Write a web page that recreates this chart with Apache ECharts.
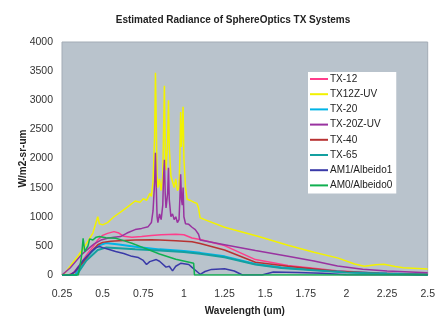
<!DOCTYPE html>
<html>
<head>
<meta charset="utf-8">
<script src="https://cdn.jsdelivr.net/npm/echarts@6/dist/echarts.min.js"></script>
<style>
  html, body { margin: 0; padding: 0; background: #fff; }
  #chart { width: 438px; height: 321px; }
</style>
</head>
<body>
<div id="chart"></div>
<script>
// series names (legend order)
var seriesNames = ['TX-12', 'TX12Z-UV', 'TX-20', 'TX-20Z-UV', 'TX-40', 'TX-65', 'AM1/Albeido1', 'AM0/Albeido0'];

// [wavelength um, radiance W/m2-sr-um]
var tx12 = [[0.25,0],[0.29,0],[0.32,40],[0.36,180],[0.41,380],[0.44,480],[0.47,600],[0.5,680],[0.53,715],[0.57,745],[0.6,720],[0.63,665],[0.68,650],[0.74,660],[0.8,680],[0.86,690],[0.95,700],[1.0,690],[1.05,635],[1.1,610],[1.25,505],[1.44,265],[1.64,165],[1.94,75],[2.2,30],[2.5,12]];

var tx12zuv = [[0.25,0],[0.27,40],[0.3,150],[0.35,330],[0.4,540],[0.44,720],[0.47,1000],[0.48,880],[0.5,860],[0.53,900],[0.57,1000],[0.61,1080],[0.65,1160],[0.7,1270],[0.73,1250],[0.75,1310],[0.77,1280],[0.79,1400],[0.8,1350],[0.81,1600],[0.82,2400],[0.825,3470],[0.83,2600],[0.835,1700],[0.84,1500],[0.85,1650],[0.86,1450],[0.87,1700],[0.875,2500],[0.88,3250],[0.885,2200],[0.89,1800],[0.9,2300],[0.905,3000],[0.91,2200],[0.92,1700],[0.93,1600],[0.94,1500],[0.95,1650],[0.96,1450],[0.97,1500],[0.975,2000],[0.98,2800],[0.985,2200],[0.99,2500],[0.995,2890],[1.0,2000],[1.01,1500],[1.02,1300],[1.04,1280],[1.06,1250],[1.08,1230],[1.09,1150],[1.1,980],[1.12,960],[1.25,820],[1.46,660],[1.64,510],[1.8,390],[1.95,290],[2.05,190],[2.11,150],[2.18,175],[2.23,185],[2.3,145],[2.35,125],[2.5,105]];

var tx20 = [[0.25,0],[0.33,0],[0.4,300],[0.47,500],[0.52,550],[0.6,525],[0.7,485],[0.85,440],[1.0,410],[1.1,380],[1.25,320],[1.44,190],[1.6,130],[1.8,90],[2.0,50],[2.25,25],[2.5,10]];

var tx20zuv = [[0.25,0],[0.26,20],[0.3,120],[0.37,350],[0.42,470],[0.45,540],[0.49,600],[0.53,630],[0.57,650],[0.61,660],[0.65,720],[0.7,780],[0.74,800],[0.78,830],[0.8,900],[0.81,1100],[0.82,1600],[0.825,2100],[0.83,1500],[0.835,1000],[0.84,900],[0.85,1050],[0.86,950],[0.87,1200],[0.875,1700],[0.88,1980],[0.885,1400],[0.89,1150],[0.9,1400],[0.905,1840],[0.91,1300],[0.92,1000],[0.93,1050],[0.94,950],[0.95,1000],[0.96,900],[0.97,950],[0.975,1300],[0.98,1730],[0.985,1300],[0.99,1200],[0.995,1500],[1.0,1000],[1.01,880],[1.03,870],[1.05,820],[1.07,780],[1.09,700],[1.1,600],[1.25,520],[1.44,420],[1.64,320],[1.8,240],[1.945,155],[2.1,100],[2.25,68],[2.5,40]];

var tx40 = [[0.25,0],[0.3,0],[0.33,50],[0.38,220],[0.43,400],[0.47,520],[0.5,560],[0.55,580],[0.6,590],[0.7,600],[0.8,605],[0.85,600],[0.95,590],[1.05,570],[1.1,540],[1.25,430],[1.44,220],[1.64,150],[1.94,65],[2.2,28],[2.5,10]];

var tx65 = [[0.25,0],[0.34,0],[0.4,250],[0.47,430],[0.52,470],[0.6,460],[0.7,440],[0.85,420],[1.0,395],[1.1,365],[1.25,305],[1.44,180],[1.6,120],[1.8,80],[2.0,45],[2.25,20],[2.5,5]];

var am1 = [[0.25,0],[0.3,0],[0.33,60],[0.38,250],[0.43,400],[0.46,470],[0.48,490],[0.5,470],[0.55,430],[0.58,405],[0.63,370],[0.68,320],[0.72,300],[0.75,250],[0.77,180],[0.79,230],[0.83,265],[0.85,236],[0.89,135],[0.91,150],[0.93,70],[0.95,150],[0.98,200],[1.03,180],[1.05,130],[1.08,60],[1.1,12],[1.13,60],[1.17,96],[1.25,107],[1.31,68],[1.36,0],[1.48,0],[1.55,50],[1.7,45],[1.85,30],[2.0,5],[2.5,0]];

var am0 = [[0.25,0],[0.35,0],[0.36,150],[0.37,320],[0.38,630],[0.39,400],[0.41,500],[0.42,620],[0.44,600],[0.46,650],[0.48,660],[0.52,640],[0.58,630],[0.63,590],[0.68,545],[0.75,470],[0.85,360],[0.95,270],[1.06,200],[1.065,0],[2.5,0]];

var seriesData = [tx12, tx12zuv, tx20, tx20zuv, tx40, tx65, am1, am0];
var colors = ['#ff3d8b', '#f2f200', '#00b4e6', '#9933a0', '#b83232', '#14a0a0', '#3a3aa8', '#10b050'];
var widths = [1.5, 1.5, 2, 1.5, 1.5, 2, 1.5, 1.5];

var myChart = echarts.init(document.getElementById('chart'));

var series = [];
for (var i = 0; i < seriesNames.length; i++) {
    series.push({
        name: seriesNames[i],
        type: 'line',
        data: seriesData[i],
        showSymbol: false,
        symbol: 'none',
        lineStyle: { color: colors[i], width: widths[i] },
        itemStyle: { color: colors[i] },
        emphasis: { disabled: true }
    });
}

myChart.setOption({
    animation: false,
    textStyle: { fontFamily: 'Liberation Sans, Arial, sans-serif' },
    title: {
        text: 'Estimated Radiance of SphereOptics TX Systems',
        left: 228,
        textAlign: 'center',
        top: 10,
        textStyle: { fontSize: 10, fontWeight: 'bold', color: '#222' }
    },
    grid: {
        left: 62,
        right: 8,
        top: 42,
        bottom: 42,
        show: true,
        backgroundColor: '#b9c3cc',
        borderColor: '#a3acb5',
        borderWidth: 1
    },
    legend: {
        data: seriesNames,
        orient: 'vertical',
        left: 308,
        top: 72,
        itemWidth: 18,
        itemHeight: 2,
        itemGap: 5.2,
        padding: [2, 4, 3, 2],
        backgroundColor: '#ffffff',
        icon: 'rect',
        textStyle: { fontSize: 10, color: '#222', padding: [0, 0, 0, -3] }
    },
    xAxis: {
        type: 'value',
        min: 0.25,
        max: 2.5,
        interval: 0.25,
        name: 'Wavelength (um)',
        nameLocation: 'middle',
        nameGap: 31,
        nameMoveOverlap: false,
        nameTextStyle: { fontSize: 10, fontWeight: 'bold', color: '#222' },
        axisLine: { show: false },
        axisTick: { show: false },
        splitLine: { show: false },
        axisLabel: { fontSize: 10.5, color: '#333', margin: 14 }
    },
    yAxis: {
        type: 'value',
        min: 0,
        max: 4000,
        interval: 500,
        name: 'W/m2-sr-um',
        nameLocation: 'middle',
        nameGap: 34,
        nameMoveOverlap: false,
        nameTextStyle: { fontSize: 10, fontWeight: 'bold', color: '#222' },
        axisLine: { show: false },
        axisTick: { show: false },
        splitLine: { show: false },
        axisLabel: {
            fontSize: 10.5,
            color: '#333',
            margin: 9,
            formatter: function (v) { return String(v); }
        }
    },
    series: series
});
</script>
</body>
</html>
